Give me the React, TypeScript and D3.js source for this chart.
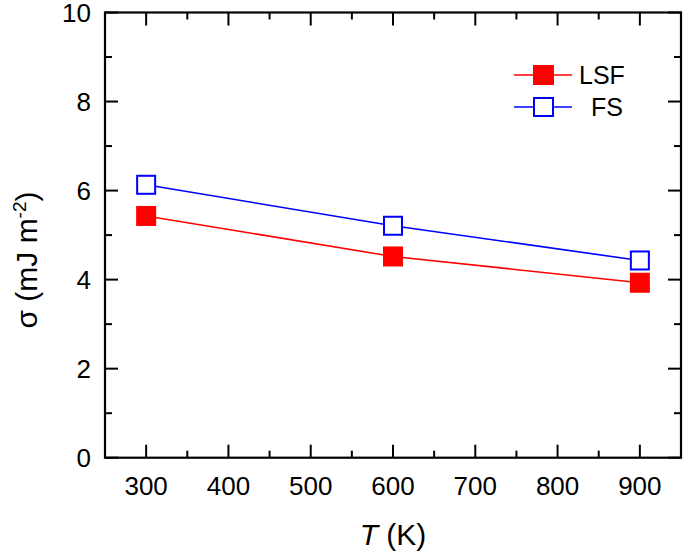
import React from "react";
import * as d3 from "d3";

const temperatures = [300, 600, 900];
const lsfValues = [5.43, 4.52, 3.93];
const fsValues = [6.13, 5.21, 4.43];
const xTicks = [300, 400, 500, 600, 700, 800, 900];
const xMinor = [250, 350, 450, 550, 650, 750, 850, 950];
const yTicks = [0, 2, 4, 6, 8, 10];
const yMinor = [1, 3, 5, 7, 9];

const W = 685;
const H = 555;
const L = 105, R = 681, T = 12.5, B = 457.7;
const FONT = "'Liberation Sans', Arial, Helvetica, sans-serif";

export default function App() {
  const x = d3.scaleLinear().domain([250, 950]).range([L, R]);
  const y = d3.scaleLinear().domain([0, 10]).range([B, T]);
  const line = d3.line<number>().x((_, i) => x(temperatures[i])).y((d) => y(d));
  const MAJ = 13, MIN = 7;
  const ms = 20;

  return (
    <svg width={W} height={H} style={{ position: "absolute", left: 0, top: 0, background: "#fff" }} fontFamily={FONT}>
      <rect x={0} y={0} width={W} height={H} fill="#fff" />
      {/* ticks */}
      <g stroke="#000" strokeWidth={2}>
        {xTicks.map((t) => (
          <g key={"xt" + t}>
            <line x1={x(t)} x2={x(t)} y1={B} y2={B - MAJ} />
            <line x1={x(t)} x2={x(t)} y1={T} y2={T + MAJ} />
          </g>
        ))}
        {xMinor.map((t) => (
          <g key={"xm" + t}>
            <line x1={x(t)} x2={x(t)} y1={B} y2={B - MIN} />
            <line x1={x(t)} x2={x(t)} y1={T} y2={T + MIN} />
          </g>
        ))}
        {yTicks.map((t) => (
          <g key={"yt" + t}>
            <line x1={L} x2={L + MAJ} y1={y(t)} y2={y(t)} />
            <line x1={R} x2={R - MAJ} y1={y(t)} y2={y(t)} />
          </g>
        ))}
        {yMinor.map((t) => (
          <g key={"ym" + t}>
            <line x1={L} x2={L + MIN} y1={y(t)} y2={y(t)} />
            <line x1={R} x2={R - MIN} y1={y(t)} y2={y(t)} />
          </g>
        ))}
      </g>
      <rect x={L} y={T} width={R - L} height={B - T} fill="none" stroke="#000" strokeWidth={2.2} />
      {/* tick labels */}
      <g fontSize={26} fill="#000">
        {xTicks.map((t) => (
          <text key={"xl" + t} x={x(t)} y={495} textAnchor="middle">{t}</text>
        ))}
        {yTicks.map((t) => (
          <text key={"yl" + t} x={91} y={y(t) + 9.5} textAnchor="end">{t}</text>
        ))}
      </g>
      {/* axis titles */}
      <text x={(L + R) / 2} y={545} textAnchor="middle" fontSize={30} fill="#000">
        <tspan fontStyle="italic">T</tspan> (K)
      </text>
      <text transform={`translate(37,260) rotate(-90)`} textAnchor="middle" fontSize={30} fill="#000">
        σ (mJ m<tspan fontSize={19} dy={-11}>-2</tspan><tspan dy={11}>)</tspan>
      </text>
      {/* data */}
      <path d={line(lsfValues) || ""} fill="none" stroke="#ff0000" strokeWidth={1.6} />
      <path d={line(fsValues) || ""} fill="none" stroke="#0000ff" strokeWidth={1.6} />
      {lsfValues.map((v, i) => (
        <rect key={"lp" + i} x={x(temperatures[i]) - ms / 2} y={y(v) - ms / 2} width={ms} height={ms} fill="#ff0000" />
      ))}
      {fsValues.map((v, i) => (
        <rect key={"fp" + i} x={x(temperatures[i]) - ms / 2 + 1} y={y(v) - ms / 2 + 1} width={ms - 2} height={ms - 2} fill="#fff" stroke="#0000ff" strokeWidth={2} />
      ))}
      {/* legend */}
      <g>
        <line x1={514} x2={572} y1={75} y2={75} stroke="#ff0000" strokeWidth={1.6} />
        <rect x={533} y={65} width={21} height={20} fill="#ff0000" />
        <text x={579} y={84} fontSize={25} fill="#000">LSF</text>
        <line x1={514} x2={572} y1={107} y2={107} stroke="#0000ff" strokeWidth={1.6} />
        <rect x={534} y={98} width={19} height={18} fill="#fff" stroke="#0000ff" strokeWidth={2} />
        <text x={591} y={116} fontSize={25} fill="#000">FS</text>
      </g>
    </svg>
  );
}
